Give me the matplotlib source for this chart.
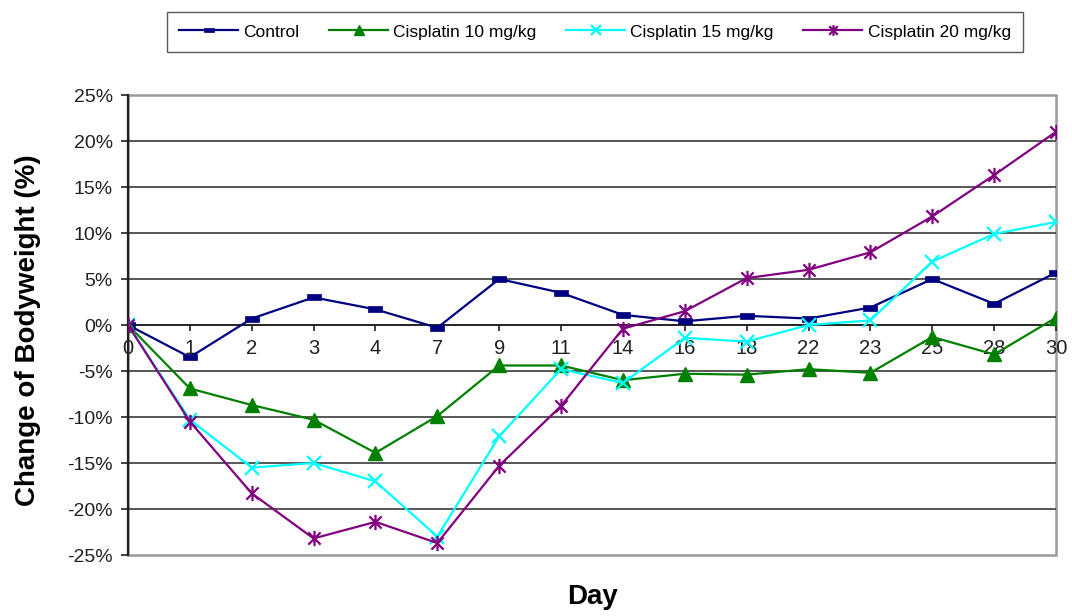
import matplotlib
matplotlib.use("Agg")
import matplotlib.pyplot as plt
from matplotlib.path import Path
from matplotlib.patches import Rectangle
from matplotlib.ticker import FuncFormatter

plt.rcParams['font.family'] = ['Liberation Sans', 'DejaVu Sans']

# Study days (categorical axis) and percent change of bodyweight per group
days = ["0", "1", "2", "3", "4", "7", "9", "11", "14", "16", "18", "22", "23", "25", "28", "30"]
control = [0.0, -3.5, 0.7, 3.0, 1.7, -0.3, 5.0, 3.5, 1.1, 0.4, 1.0, 0.7, 1.9, 5.0, 2.3, 5.7]
cis10 = [0.0, -6.9, -8.7, -10.3, -13.9, -9.9, -4.4, -4.4, -6.0, -5.3, -5.4, -4.8, -5.2, -1.3, -3.2, 0.8]
cis15 = [0.0, -10.3, -15.5, -15.0, -17.0, -23.0, -12.1, -4.8, -6.3, -1.4, -1.8, 0.0, 0.5, 6.9, 9.9, 11.2]
cis20 = [0.0, -10.5, -18.3, -23.2, -21.4, -23.7, -15.3, -8.8, -0.4, 1.5, 5.1, 6.0, 7.9, 11.8, 16.3, 21.0]
labels = ["Control", "Cisplatin 10 mg/kg", "Cisplatin 15 mg/kg", "Cisplatin 20 mg/kg"]
y_ticks = [-25, -20, -15, -10, -5, 0, 5, 10, 15, 20, 25]

# Marker shapes: flat dash and asterisk (x plus vertical bar)
dash = Path([(-1, -0.45), (1, -0.45), (1, 0.45), (-1, 0.45), (-1, -0.45)],
            [Path.MOVETO, Path.LINETO, Path.LINETO, Path.LINETO, Path.CLOSEPOLY])
star = Path([(0, -1), (0, 1), (-0.8, -0.8), (0.8, 0.8), (-0.8, 0.8), (0.8, -0.8)],
            [Path.MOVETO, Path.LINETO, Path.MOVETO, Path.LINETO, Path.MOVETO, Path.LINETO])

W, H = 1072, 616
fig = plt.figure(figsize=(W / 100, H / 100), dpi=100)
ax = fig.add_axes([128 / W, 1 - 555 / H, (1056 - 128) / W, (555 - 95) / H])

x = list(range(len(days)))
l1, = ax.plot(x, control, color="#000080", lw=1.6, marker=dash, ms=10,
              mfc="#000080", mec="#000080", mew=0.5, label=labels[0], zorder=3)
l2, = ax.plot(x, cis10, color="#008000", lw=1.6, marker="^", ms=10,
              mfc="#008000", mec="#008000", label=labels[1], zorder=3)
l3, = ax.plot(x, cis15, color="#00FFFF", lw=1.6, marker="x", ms=10,
              mew=1.6, mec="#00FFFF", label=labels[2], zorder=3)
l4, = ax.plot(x, cis20, color="#800080", lw=1.6, marker=star, ms=11,
              mew=1.6, mec="#800080", mfc="none", label=labels[3], zorder=3)

ax.set_xlim(0, len(days) - 1)
ax.set_ylim(-25, 25)

# Horizontal gridlines
for yv in y_ticks[1:-1]:
    ax.axhline(yv, color="#3a3a3a", lw=1.2, zorder=1)

# Plot-area border
for s in ("top", "right"):
    ax.spines[s].set_visible(False)
ax.add_patch(Rectangle((0, 0), 1, 1, transform=ax.transAxes, fill=False,
                       edgecolor="#9a9a9a", lw=1.8, zorder=0.5, clip_on=False))

# Category axis crosses at zero
ax.spines["bottom"].set_position(("data", 0))
ax.spines["bottom"].set_color("#202020")
ax.spines["bottom"].set_linewidth(1.2)
ax.spines["left"].set_color("#202020")
ax.spines["left"].set_linewidth(1.6)

ax.set_xticks(x)
ax.set_xticklabels(days)
ax.set_yticks(y_ticks)
ax.yaxis.set_major_formatter(FuncFormatter(lambda v, p: f"{int(v)}%"))
ax.tick_params(axis="x", direction="out", length=4, width=1.2, pad=6,
               labelsize=14.5, colors="#202020")
ax.tick_params(axis="y", direction="out", length=5, width=1.2, pad=6,
               labelsize=14, colors="#202020")

fig.text(28 / W, 1 - 330 / H, "Change of Bodyweight (%)", rotation=90,
         ha="center", va="center", fontsize=20, fontweight="bold")
fig.text(593 / W, 1 - 597 / H, "Day", ha="center", va="center",
         fontsize=20, fontweight="bold")

leg = fig.legend(handles=[l1, l2, l3, l4], loc="center",
                 bbox_to_anchor=(595 / W, 1 - 32 / H), ncol=4, fontsize=12.5,
                 frameon=True, fancybox=False, edgecolor="#303030",
                 handlelength=3.4, handletextpad=0.3, columnspacing=1.7,
                 borderpad=0.7, markerscale=0.7)
leg.get_frame().set_linewidth(1.0)

fig.savefig("out.png", dpi=100)
